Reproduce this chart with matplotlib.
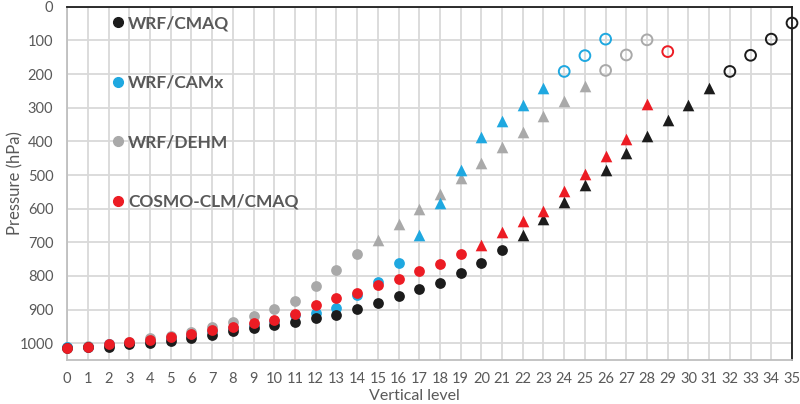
import numpy as np
import matplotlib.pyplot as plt
from matplotlib.lines import Line2D

# pressure (hPa) per vertical level
# each series starts at level 0; filled circles, then filled triangles, then open circles
wrf_cmaq = [1013, 1012, 1010, 1004, 1000, 995, 985, 975, 965, 955, 946, 936,
            926, 917, 898, 880, 860, 840, 821, 792, 763, 724, 678, 630,
            580, 530, 484, 435, 385, 337, 291, 241, 192, 144, 96, 48]
wrf_camx = [1012, 1010, 1004, 999, 993, 985, 975, 965, 955, 945, 934, 917,
            911, 895, 858, 818, 761, 677, 583, 484, 387, 338, 292, 242,
            192, 145, 96]
wrf_dehm = [1012, 1009, 1002, 996, 986, 978, 968, 953, 937, 919, 897, 876,
            830, 782, 736, 693, 647, 602, 556, 510, 464, 417, 372, 325,
            281, 234, 189, 143, 98]
cosmo_cmaq = [1013, 1010, 1002, 998, 992, 983, 972, 962, 952, 941, 932, 912,
              888, 866, 850, 826, 809, 784, 764, 734, 709, 669, 638, 608,
              547, 496, 444, 392, 289, 133]

# (name, values, first triangle level, first open circle level, colour)
series = [
    ('WRF/DEHM', wrf_dehm, 15, 26, '#a9a9a9'),
    ('WRF/CAMx', wrf_camx, 17, 24, '#1fa8e0'),
    ('WRF/CMAQ', wrf_cmaq, 22, 32, '#1c1c1c'),
    ('COSMO-CLM/CMAQ', cosmo_cmaq, 20, 29, '#ec1c24'),
]
legend_order = ['WRF/CMAQ', 'WRF/CAMx', 'WRF/DEHM', 'COSMO-CLM/CMAQ']

plt.rcParams['font.family'] = ['Lato', 'DejaVu Sans']
txt = '#595959'

fig = plt.figure(figsize=(8, 4.04), dpi=100)
ax = fig.add_axes([0.084, 0.109, 0.906, 0.874])

colours = {}
for name, vals, tri, opn, col in series:
    colours[name] = col
    lev = np.arange(len(vals))
    p = np.array(vals)
    ax.scatter(lev[:tri], p[:tri], s=60, color=col, marker='o', lw=0, clip_on=False, zorder=3)
    ax.scatter(lev[tri:opn], p[tri:opn], s=70, color=col, marker='^', lw=0, clip_on=False, zorder=3)
    ax.scatter(lev[opn:], p[opn:], s=60, facecolors='none', edgecolors=col, marker='o',
               lw=1.4, clip_on=False, zorder=3)

ax.set_xlim(0, 35)
ax.set_ylim(1050, 0)
ax.set_xticks(range(0, 36))
ax.set_yticks(range(0, 1001, 100))
ax.grid(True, color='#d9d9d9', lw=1.3)
ax.set_axisbelow(True)
ax.tick_params(length=0, labelsize=10.5, colors=txt)
ax.tick_params(axis='y', pad=10)
ax.tick_params(axis='x', pad=9)
for s in ['left', 'bottom']:
    ax.spines[s].set_color('#bfbfbf')
    ax.spines[s].set_linewidth(1.3)
for s in ['top', 'right']:
    ax.spines[s].set_color('#1c1c1c')
    ax.spines[s].set_linewidth(1.3)

ax.set_xlabel('Vertical level', fontsize=11.5, color=txt)
ax.xaxis.set_label_coords(0.479, -0.081)
ax.set_ylabel('Pressure (hPa)', fontsize=12, color=txt)
ax.yaxis.set_label_coords(-0.061, 0.5)

handles = [Line2D([], [], ls='none', marker='o', ms=7, color=colours[n]) for n in legend_order]
ax.legend(handles, legend_order, loc='upper left', bbox_to_anchor=(0.036, 1.02),
          frameon=False, handletextpad=0.1, handlelength=1.0, labelspacing=2.5,
          prop={'weight': 'bold', 'size': 12.5}, labelcolor=txt)

fig.savefig('out.png', dpi=100)
